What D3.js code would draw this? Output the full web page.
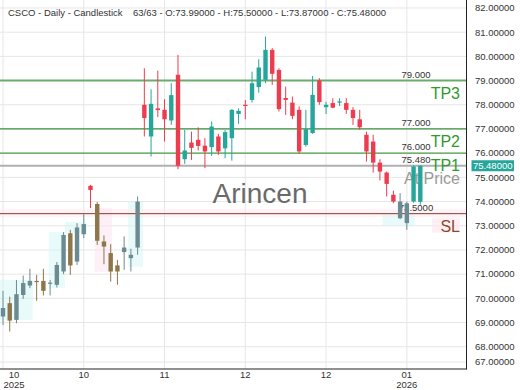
<!doctype html>
<html lang="en">
<head>
<meta charset="UTF-8">
<title>CSCO Daily Candlestick</title>
<style>
  body { margin: 0; background: #fff; }
  svg { display: block; font-family: "Liberation Sans", Arial, sans-serif; }
</style>
</head>
<body>
<div id="chart"></div>
<script src="https://cdn.jsdelivr.net/npm/d3@7/dist/d3.min.js"></script>
<script>
    // OHLC, one entry per bar (63 bars)
    const opens  = [69.25,69.80,69.11,70.14,70.53,70.72,70.72,70.60,70.56,71.11,
                    72.69,71.52,72.65,74.65,73.90,72.35,71.87,71.36,71.91,71.66,
                    72.10,78.00,76.69,77.85,77.79,77.35,79.24,75.75,76.44,76.55,
                    76.31,76.25,76.69,76.20,76.62,77.62,78.00,78.20,78.73,79.03,
                    80.27,79.44,78.28,78.09,77.79,76.34,76.83,79.00,77.90,78.07,
                    78.10,78.07,77.79,77.40,76.76,76.48,75.61,75.20,74.28,73.31,
                    73.11,74.00,73.99]
    const highs  = [70.31,70.07,70.76,70.94,71.22,70.97,71.22,70.76,71.50,72.74,
                    72.83,73.11,73.48,74.69,73.98,72.60,72.24,71.59,72.56,72.05,
                    74.21,79.51,78.64,79.41,78.23,78.89,80.06,76.96,76.89,77.07,
                    76.62,77.31,76.80,76.96,77.82,77.86,78.20,79.37,79.88,80.82,
                    80.34,79.51,78.75,78.34,77.93,77.79,79.19,79.10,78.13,78.27,
                    78.27,78.27,77.90,77.79,76.89,76.76,75.75,75.24,74.45,74.35,
                    74.00,75.50,75.50]
    const lows   = [68.90,68.63,68.97,69.98,70.42,69.90,70.12,70.12,70.45,71.00,
                    70.97,71.38,72.49,73.73,72.21,71.41,70.69,70.56,71.18,71.11,
                    71.80,76.69,75.86,77.49,76.48,77.17,75.34,75.56,75.72,76.11,
                    75.38,75.89,75.93,75.79,75.69,77.21,77.40,78.09,78.50,78.89,
                    78.82,77.72,77.58,77.40,75.97,76.27,76.80,78.00,77.62,77.86,
                    77.95,77.62,77.17,76.96,75.65,75.20,74.87,74.21,73.93,73.27,
                    72.83,73.95,73.87]
    const closes = [69.60,69.08,70.17,70.63,70.72,70.68,70.31,70.65,71.38,72.62,
                    71.36,72.93,73.07,74.48,72.38,72.14,71.11,71.11,72.10,71.80,
                    74.00,77.45,78.04,77.78,77.40,78.40,75.48,76.11,76.22,76.30,
                    76.07,77.10,76.07,76.87,77.79,77.75,77.95,78.89,79.54,80.27,
                    79.28,77.82,78.20,77.54,76.07,76.99,78.41,78.11,78.00,77.88,
                    78.14,77.79,77.45,77.07,76.07,75.61,75.24,74.73,74.00,74.00,
                    73.93,75.45,75.48]

    const yTicks = [82,81,80,79,78,77,76,75,74,73,72,71,70,69,68,67]
    const xTickIdx   = [0, 12, 24, 36, 48, 60]
    const xTickMonth = ['10', '10', '11', '12', '12', '01']
    const xTickYear  = ['2025', '', '', '', '', '2026']

    // trade levels
    const levelValues = [79, 77, 76, 75.48, 73.5]
    const levelText   = ['79.000', '77.000', '76.000', '75.480', '73.5000']
    const levelNames  = ['TP3', 'TP2', 'TP1', 'At Price', 'SL']

    // faint highlight zones [first bar, last bar, top price, bottom price, kind]
    const zoneFrom = [-0.5, 6.8, 9.2, 13.6, 18.6, 56.4]
    const zoneTo   = [4.4, 9.2, 12.5, 16.2, 20.8, 61.2]
    const zoneHi   = [70.76, 72.74, 73.16, 73.73, 73.98, 73.5]
    const zoneLo   = [69.11, 70.43, 72.7, 71.1, 71.3, 73.0]
    const zoneKind = ['up', 'up', 'up', 'down', 'up', 'up']

    const header1 = 'CSCO - Daily - Candlestick'
    const header2 = '63/63 - O:73.99000 - H:75.50000 - L:73.87000 - C:75.48000'
    const lastPrice = 75.48

    const width = 520, height = 390
    const plotRight = 466.5, plotBottom = 369

    const levelStyle = [
        {stroke: '#6aad6a', w: 2,   name: '#2e9a2e'},
        {stroke: '#3a8f3a', w: 1.3, name: '#2e9a2e'},
        {stroke: '#4a9e4a', w: 1.3, name: '#2e9a2e'},
        {stroke: '#b0b0b0', w: 2,   name: '#9a9a9a'},
        {stroke: '#8b3a2a', w: 1,   name: '#8b4a2a'}
    ]

    const bars = opens.map((o, i) => ({i: i, o: o, h: highs[i], l: lows[i], c: closes[i]}))
    const slLevel = levelValues[4]

    const x = d3.scaleLinear().domain([0, 62]).range([3, 420.3])
    const y = d3.scaleLinear().domain([67.08, 82.33]).range([plotBottom, 0])
    const yPos = v => Math.min(y(v), plotBottom - 7)

    const svg = d3.select('#chart').append('svg')
        .attr('width', width).attr('height', height)

    // grid
    svg.append('g').selectAll('line').data(yTicks).enter().append('line')
        .attr('x1', 0).attr('x2', plotRight)
        .attr('y1', d => yPos(d)).attr('y2', d => yPos(d))
        .attr('stroke', '#e6e6e6').attr('stroke-width', 1)
    svg.append('g').selectAll('line').data(xTickIdx).enter().append('line')
        .attr('x1', d => x(d)).attr('x2', d => x(d))
        .attr('y1', 0).attr('y2', plotBottom)
        .attr('stroke', '#e6e6e6').attr('stroke-width', 1)

    // zones
    svg.append('g').selectAll('rect').data(zoneFrom).enter().append('rect')
        .attr('x', (d, k) => x(d))
        .attr('width', (d, k) => x(zoneTo[k]) - x(d))
        .attr('y', (d, k) => y(zoneHi[k]))
        .attr('height', (d, k) => y(zoneLo[k]) - y(zoneHi[k]))
        .attr('fill', (d, k) => zoneKind[k] == 'up' ? '#d2f7f5' : '#fbe1ef')
        .attr('opacity', 0.5)

    // pink band on the SL line
    svg.append('rect')
        .attr('x', 0).attr('width', plotRight)
        .attr('y', y(slLevel) - 5).attr('height', 8.5)
        .attr('fill', '#fde6ee').attr('opacity', 0.45)

    // watermark
    svg.append('text')
        .attr('x', 260).attr('y', 203)
        .attr('text-anchor', 'middle')
        .attr('font-size', 28)
        .attr('fill', '#6a6a6a')
        .text('Arincen')

    // levels
    const lv = svg.append('g')
    levelValues.forEach(function(v, k) {
        lv.append('line')
            .attr('x1', 0).attr('x2', plotRight)
            .attr('y1', y(v)).attr('y2', y(v))
            .attr('stroke', levelStyle[k].stroke)
            .attr('stroke-width', levelStyle[k].w)
    })

    // candles
    const upCol = '#26a69a', downCol = '#ee3c4f'
    const upMuted = '#6b8a92', downMuted = '#8d7649'
    const colour = d => {
        const up = d.c >= d.o
        if (d.l < slLevel) return up ? upMuted : downMuted
        return up ? upCol : downCol
    }
    const cg = svg.append('g')
    cg.selectAll('line').data(bars).enter().append('line')
        .attr('x1', d => x(d.i)).attr('x2', d => x(d.i))
        .attr('y1', d => y(d.h)).attr('y2', d => y(d.l))
        .attr('stroke', colour).attr('stroke-width', 1)
    cg.selectAll('rect').data(bars).enter().append('rect')
        .attr('x', d => x(d.i) - 2.2)
        .attr('width', 4.4)
        .attr('y', d => y(Math.max(d.o, d.c)))
        .attr('height', d => Math.max(1.2, Math.abs(y(d.o) - y(d.c))))
        .attr('fill', colour)

    // level labels
    levelValues.forEach(function(v, k) {
        lv.append('text')
            .attr('x', 416).attr('y', y(v) - 3)
            .attr('text-anchor', 'middle')
            .attr('font-size', 9.5).attr('fill', '#333')
            .text(levelText[k])
        if (levelNames[k] == 'SL') {
            lv.append('rect')
                .attr('x', 432).attr('width', 28)
                .attr('y', y(v) + 4).attr('height', 15)
                .attr('fill', '#fde6ee').attr('opacity', 0.6)
        }
        lv.append('text')
            .attr('x', 460).attr('y', y(v) + 18)
            .attr('text-anchor', 'end')
            .attr('font-size', 16)
            .attr('fill', levelStyle[k].name)
            .text(levelNames[k])
    })

    // axes frame
    svg.append('line')
        .attr('x1', plotRight).attr('x2', plotRight)
        .attr('y1', 0).attr('y2', plotBottom + 0.5)
        .attr('stroke', '#222').attr('stroke-width', 1)
    svg.append('line')
        .attr('x1', 0).attr('x2', plotRight)
        .attr('y1', plotBottom).attr('y2', plotBottom)
        .attr('stroke', '#222').attr('stroke-width', 1)

    // y labels
    svg.append('g').selectAll('text').data(yTicks).enter().append('text')
        .attr('x', 475).attr('y', d => yPos(d))
        .attr('dy', '0.35em')
        .attr('font-size', 9.5).attr('fill', '#333')
        .text(d => d.toFixed(5))

    // last price tag
    svg.append('rect')
        .attr('x', 471.5).attr('width', 42.5)
        .attr('y', y(lastPrice) - 5.5).attr('height', 11)
        .attr('fill', upCol)
    svg.append('text')
        .attr('x', 492.7).attr('y', y(lastPrice))
        .attr('dy', '0.35em').attr('text-anchor', 'middle')
        .attr('font-size', 9.5).attr('fill', '#fff')
        .text(lastPrice.toFixed(5))

    // x labels
    const xl = svg.append('g')
    xTickIdx.forEach(function(d, k) {
        const px = Math.max(x(d), 14)
        xl.append('text')
            .attr('x', px).attr('y', 378)
            .attr('text-anchor', 'middle')
            .attr('font-size', 9.5).attr('fill', '#333')
            .text(xTickMonth[k])
        if (xTickYear[k]) {
            xl.append('text')
                .attr('x', px).attr('y', 387.5)
                .attr('text-anchor', 'middle')
                .attr('font-size', 9.5).attr('fill', '#333')
                .text(xTickYear[k])
        }
    })

    // header
    svg.append('text').attr('x', 8).attr('y', 16)
        .attr('font-size', 9.5).attr('fill', '#333').text(header1)
    svg.append('text').attr('x', 133).attr('y', 16)
        .attr('font-size', 9.5).attr('fill', '#333').text(header2)
</script>
</body>
</html>
